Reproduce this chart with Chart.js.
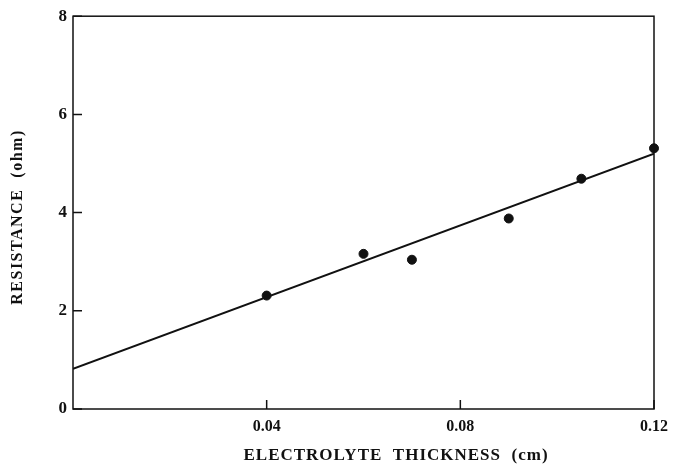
<!DOCTYPE html>
<html lang="en">
<head>
    <meta charset="UTF-8">
    <title>Resistance vs Electrolyte Thickness</title>
    <script src="https://cdn.jsdelivr.net/npm/chart.js"></script>
    <style>
        body { margin: 0; background: #fff; }
        #wrap { width: 676px; height: 469px; }
    </style>
</head>
<body>
    <div id="wrap"><canvas id="resChart"></canvas></div>

    <script>
        // measured points
        const thickness = [0.04, 0.06, 0.07, 0.09, 0.105, 0.12];
        const resistance = [2.31, 3.16, 3.04, 3.88, 4.69, 5.31];

        // fitted line end points
        const fitX = [0, 0.12];
        const fitY = [0.82, 5.2];

        const xTicks = [0.04, 0.08, 0.12];
        const yTicks = [0, 2, 4, 6, 8];

        const xTitle = 'ELECTROLYTE  THICKNESS  (cm)';
        const yTitle = 'RESISTANCE  (ohm)';

        const ink = '#111';
        const serif = '"Liberation Serif", "DejaVu Serif", serif';

        // frame, inward tick marks and the spaced-out axis titles
        const framePlugin = {
            id: 'frame',
            afterDraw(chart) {
                const { ctx, chartArea: a, scales } = chart;
                ctx.save();
                ctx.strokeStyle = ink;
                ctx.lineWidth = 1.5;
                ctx.strokeRect(a.left, a.top, a.right - a.left, a.bottom - a.top);
                ctx.beginPath();
                xTicks.forEach(v => {
                    const px = scales.x.getPixelForValue(v);
                    ctx.moveTo(px, a.bottom);
                    ctx.lineTo(px, a.bottom - 9);
                });
                yTicks.forEach(v => {
                    const py = scales.y.getPixelForValue(v);
                    ctx.moveTo(a.left, py);
                    ctx.lineTo(a.left + 9, py);
                });
                ctx.stroke();

                ctx.fillStyle = ink;
                ctx.textAlign = 'center';
                ctx.textBaseline = 'middle';
                ctx.letterSpacing = '1px';
                ctx.font = 'bold 17px ' + serif;
                ctx.fillText(xTitle, 396, 456);

                ctx.letterSpacing = '1.5px';
                ctx.font = 'bold 16px ' + serif;
                ctx.translate(18, 217);
                ctx.rotate(-Math.PI / 2);
                ctx.fillText(yTitle, 0, 0);
                ctx.restore();
            }
        };

        new Chart(document.getElementById('resChart'), {
            data: {
                datasets: [{
                    type: 'line',
                    data: fitX.map((x, i) => ({ x, y: fitY[i] })),
                    borderColor: ink,
                    borderWidth: 2,
                    pointRadius: 0,
                    fill: false
                }, {
                    type: 'scatter',
                    data: thickness.map((x, i) => ({ x, y: resistance[i] })),
                    backgroundColor: ink,
                    borderColor: ink,
                    pointRadius: 4.5,
                    clip: false
                }]
            },
            options: {
                responsive: true,
                maintainAspectRatio: false,
                animation: false,
                layout: { padding: { top: 16, right: 19, left: 0, bottom: 0 } },
                plugins: {
                    legend: { display: false },
                    tooltip: { enabled: false }
                },
                scales: {
                    x: {
                        type: 'linear',
                        min: 0,
                        max: 0.12,
                        afterBuildTicks: s => { s.ticks = xTicks.map(v => ({ value: v })); },
                        afterFit: s => { s.height = 60; },
                        grid: { display: false, drawTicks: false },
                        border: { display: false },
                        ticks: {
                            color: ink,
                            padding: 8,
                            font: { family: serif, size: 16, weight: 'bold' },
                            callback: v => v.toFixed(2)
                        }
                    },
                    y: {
                        type: 'linear',
                        min: 0,
                        max: 8,
                        afterBuildTicks: s => { s.ticks = yTicks.map(v => ({ value: v })); },
                        afterFit: s => { s.width = 73; },
                        grid: { display: false, drawTicks: false },
                        border: { display: false },
                        ticks: {
                            color: ink,
                            padding: 6,
                            font: { family: serif, size: 17, weight: 'bold' }
                        }
                    }
                }
            },
            plugins: [framePlugin]
        });
    </script>
</body>
</html>
